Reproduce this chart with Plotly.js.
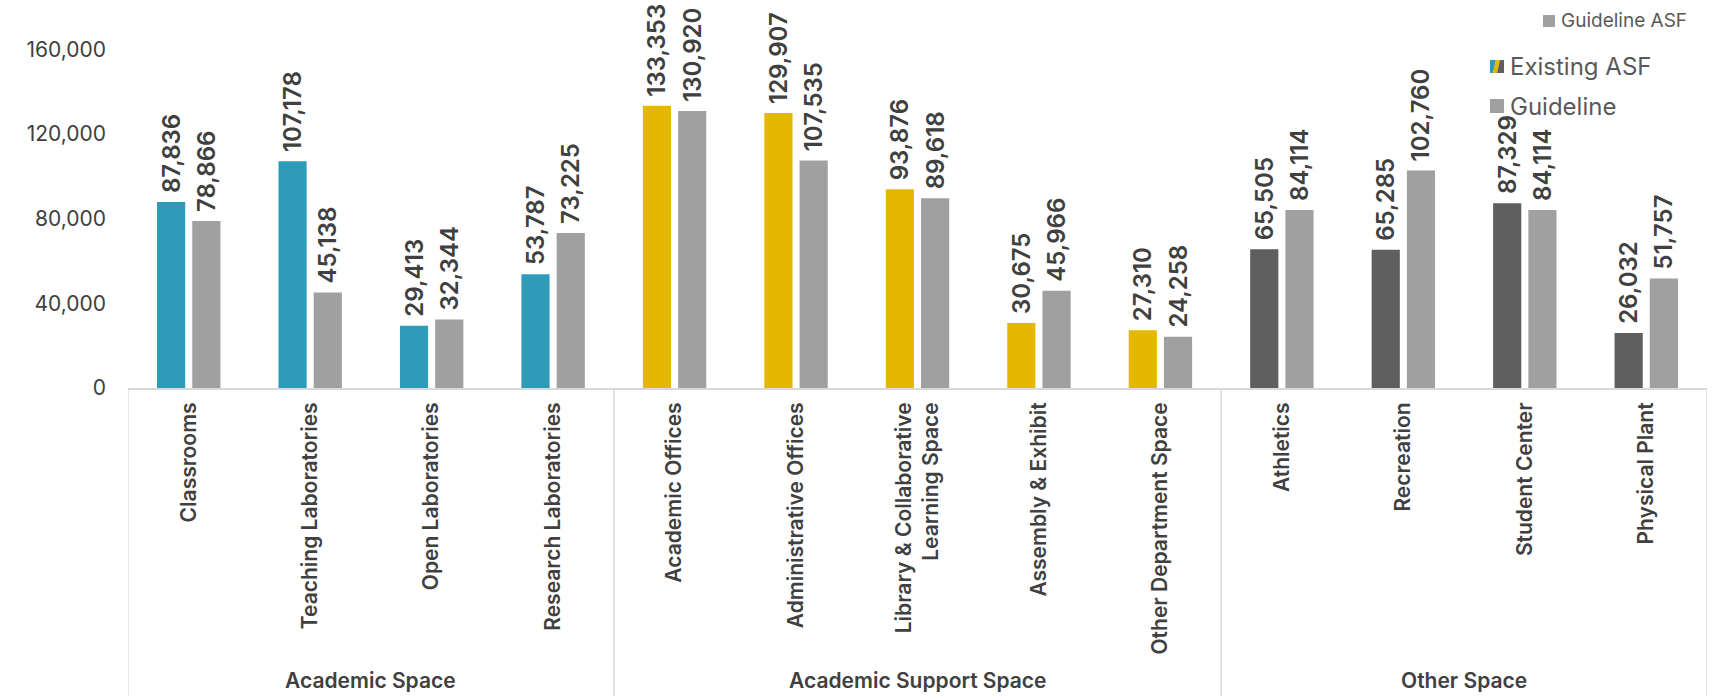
<!DOCTYPE html>
<html>
<head>
<meta charset="utf-8">
<script src="https://cdn.plot.ly/plotly-3.0.1.min.js"></script>
<style>html,body{margin:0;padding:0;background:#fff;}#chart{width:1715px;height:696px;}</style>
</head>
<body>
<div id="chart"></div>
<script>
const categories = ["Classrooms","Teaching Laboratories","Open Laboratories","Research Laboratories",
  "Academic Offices","Administrative Offices","Library & Collaborative<br>Learning Space","Assembly & Exhibit","Other Department Space",
  "Athletics","Recreation","Student Center","Physical Plant"];
const groups = ["Academic Space","Academic Support Space","Other Space"];
const groupSizes = [4,5,4];
const existing = [87836,107178,29413,53787,133353,129907,93876,30675,27310,65505,65285,87329,26032];
const guideline = [78866,45138,32344,73225,130920,107535,89618,45966,24258,84114,102760,84114,51757];
const groupColors = ["#2E9BB8","#E5B800","#5F5F5F"];
const guidelineColor = "#A0A0A0";
const yTicks = [0,40000,80000,120000,160000];

const existingColors = [];
groupSizes.forEach((n,i)=>{for(let k=0;k<n;k++) existingColors.push(groupColors[i]);});

const FONT = "Inter, Open Sans, sans-serif";
const labelFont = {family:FONT, size:24, color:"#404040", weight:600};
const fmt = v => v.toLocaleString("en-US");
const lbl = v => "\u00a0" + fmt(v);

const traces = [
  {type:"bar", name:"Existing ASF", x:categories, y:existing, marker:{color:existingColors},
   text:existing.map(lbl), textposition:"outside", textangle:-90, textfont:labelFont, constraintext:"none", cliponaxis:false, hoverinfo:"none"},
  {type:"bar", name:"Guideline", x:categories, y:guideline, marker:{color:guidelineColor},
   text:guideline.map(lbl), textposition:"outside", textangle:-90, textfont:labelFont, constraintext:"none", cliponaxis:false, hoverinfo:"none"}
];

// plot area in pixels
const L=128, R=1707, T=7, B=388;
const px = x => (x-L)/(R-L);
const py = y => (B-y)/(B-T);

const shapes = [];
const annotations = [];
// dividers
let pos = -0.5;
const bounds=[pos];
groupSizes.forEach(n=>{pos+=n; bounds.push(pos);});
bounds.forEach(b=>{
  shapes.push({type:"line", xref:"x", yref:"paper", x0:b, x1:b, y0:0, y1:py(696), line:{color:"#D9D9D9", width:1.5}});
});
// group labels
groups.forEach((g,i)=>{
  annotations.push({text:g, xref:"x", yref:"paper", x:(bounds[i]+bounds[i+1])/2, y:py(680),
    showarrow:false, yanchor:"middle", font:{family:FONT, size:21, color:"#404040", weight:600}});
});
// custom legend
const legFont = {family:FONT, color:"#595959"};
shapes.push({type:"rect", xref:"paper", yref:"paper", x0:px(1543), x1:px(1555), y0:py(27), y1:py(15), fillcolor:guidelineColor, line:{width:0}});
annotations.push({text:"Guideline ASF", xref:"paper", yref:"paper", x:px(1559), y:py(21), xanchor:"left", yanchor:"middle", showarrow:false, font:Object.assign({size:19},legFont)});
// existing swatch tri-colour
const sx0=1490, sx1=1504, sy0=60, sy1=73;
const P=(x,y)=>px(x)+","+py(y);
shapes.push({type:"path", xref:"paper", yref:"paper", path:"M"+P(sx0,sy0)+" L"+P(1496,sy0)+" L"+P(1493,sy1)+" L"+P(sx0,sy1)+" Z", fillcolor:groupColors[0], line:{width:0}});
shapes.push({type:"path", xref:"paper", yref:"paper", path:"M"+P(1496,sy0)+" L"+P(1500,sy0)+" L"+P(1497,sy1)+" L"+P(1493,sy1)+" Z", fillcolor:groupColors[1], line:{width:0}});
shapes.push({type:"path", xref:"paper", yref:"paper", path:"M"+P(1500,sy0)+" L"+P(sx1,sy0)+" L"+P(sx1,sy1)+" L"+P(1497,sy1)+" Z", fillcolor:groupColors[2], line:{width:0}});
annotations.push({text:"Existing ASF", xref:"paper", yref:"paper", x:px(1508), y:py(66), xanchor:"left", yanchor:"middle", showarrow:false, font:Object.assign({size:24},legFont)});
shapes.push({type:"rect", xref:"paper", yref:"paper", x0:px(1490), x1:px(1504), y0:py(113), y1:py(99), fillcolor:guidelineColor, line:{width:0}});
annotations.push({text:"Guideline", xref:"paper", yref:"paper", x:px(1508), y:py(106), xanchor:"left", yanchor:"middle", showarrow:false, font:Object.assign({size:24},legFont)});

const layout = {
  width:1715, height:696,
  margin:{l:L, r:1715-R, t:T, b:696-B},
  paper_bgcolor:"#fff", plot_bgcolor:"#fff",
  showlegend:false,
  barmode:"group", bargap:0.42, bargroupgap:0.2,
  font:{family:FONT, color:"#404040"},
  xaxis:{type:"category", tickangle:-90, showgrid:false, showline:true, linecolor:"#D9D9D9", linewidth:2,
    ticks:"", ticklabelstandoff:4, tickfont:{family:FONT, size:21, color:"#404040", weight:600}, range:[-0.5,12.5], fixedrange:true},
  yaxis:{range:[0,180000], tickvals:yTicks, ticktext:yTicks.map(fmt), showgrid:false, zeroline:false, showline:false,
    ticks:"", ticklabelstandoff:21, tickfont:{family:FONT, size:21, color:"#404040"}},
  shapes:shapes, annotations:annotations
};
Plotly.newPlot("chart", traces, layout, {staticPlot:true, displayModeBar:false});
</script>
</body>
</html>
